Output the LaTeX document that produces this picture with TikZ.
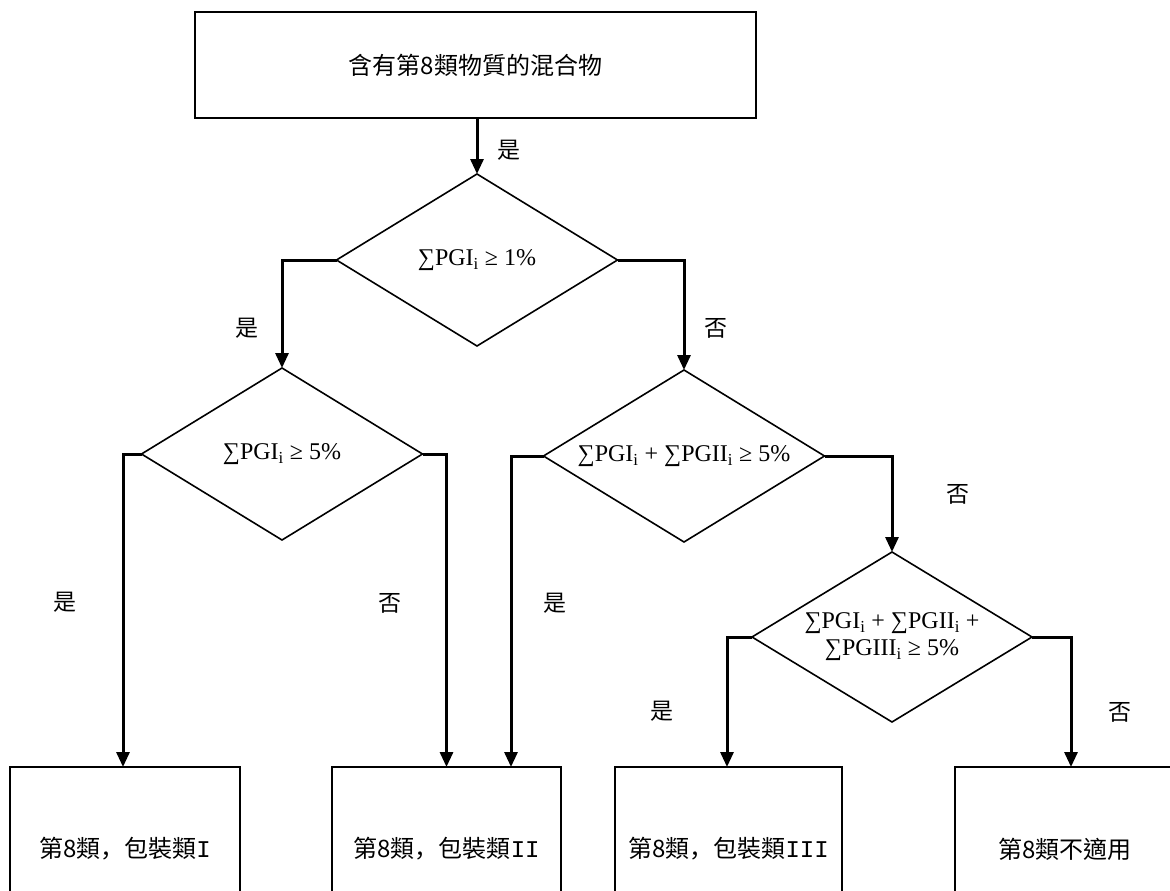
\documentclass[tikz,border=0pt]{standalone}
\usepackage{fontspec}
\setmainfont{Liberation Serif}
\newfontfamily\cjk{Noto Sans CJK TC}
\newfontfamily\cjkjp{Noto Sans CJK JP}
\newfontfamily\formfont{Liberation Serif}
\newfontfamily\romfont{Liberation Mono}
\usetikzlibrary{shapes.geometric,arrows.meta}
\newcommand{\sbi}{\textsubscript{i}}
\newcommand{\cm}{{\cjkjp ，}}
\begin{document}
\begin{tikzpicture}[x=1pt,y=-1pt,
  box/.style={draw, line width=1.6pt, rectangle, inner sep=0pt, outer sep=0pt, font=\cjk\fontsize{24}{28}\selectfont},
  dec/.style={draw, line width=1.6pt, diamond, aspect=1.63, inner sep=0pt, outer sep=0pt, minimum width=281pt, minimum height=172pt, align=center, font=\formfont\fontsize{24}{27}\selectfont},
  conn/.style={line width=3pt, -{Triangle[width=13pt,length=15pt]}},
  lab/.style={font=\cjk\fontsize{23}{26}\selectfont}]
\useasboundingbox (0,0) rectangle (1170,891);
\fill[white] (0,0) rectangle (1170,891);
\clip (0,0) rectangle (1170,891);

\node[box, minimum width=561pt, minimum height=106pt] (top) at (475.5,65) {含有第8類物質的混合物};

\node[dec] (d1) at (477,260) {∑PGI\sbi{} ≥ 1\%};
\node[dec] (d2) at (282,454) {∑PGI\sbi{} ≥ 5\%};
\node[dec] (d3) at (684,456) {∑PGI\sbi{} + ∑PGII\sbi{} ≥ 5\%};
\node[dec, minimum width=280pt, minimum height=170pt] (d4) at (892,637) {∑PGI\sbi{} + ∑PGII\sbi{} +\\∑PGIII\sbi{} ≥ 5\%};

\node[box, minimum width=230pt, minimum height=164pt] (b1) at (125,849) {第8類\cm 包裝類{\romfont I}};
\node[box, minimum width=229pt, minimum height=164pt] (b2) at (446.5,849) {第8類\cm 包裝類{\romfont II}};
\node[box, minimum width=227pt, minimum height=164pt] (b3) at (728.5,849) {第8類\cm 包裝類{\romfont III}};
\node[box, minimum width=220pt, minimum height=164pt] (b4) at (1065,849) {第8類不適用};

\draw[conn] (top.south -| d1.north) -- (d1.north);
\draw[conn] (d1.west) -| (d2.north);
\draw[conn] (d1.east) -| (d3.north);
\draw[conn] (d2.west) -| ([xshift=-2pt]b1.north);
\draw[conn] (d2.east) -| (b2.north);
\draw[conn] (d3.west) -| ([xshift=64.5pt]b2.north);
\draw[conn] (d3.east) -| (d4.north);
\draw[conn] (d4.west) -| ([xshift=-1.5pt]b3.north);
\draw[conn] (d4.east) -| ([xshift=6pt]b4.north);

\node[lab] (l0) at (509,150) {是};
\node[lab] (l1) at (247,328) {是};
\node[lab] (l2) at (716,328) {否};
\node[lab] (l3) at (65,602) {是};
\node[lab] (l4) at (390,603) {否};
\node[lab] (l5) at (555,603) {是};
\node[lab] (l6) at (958,494) {否};
\node[lab] (l7) at (662,711) {是};
\node[lab] (l8) at (1120,712) {否};
\end{tikzpicture}
\end{document}
